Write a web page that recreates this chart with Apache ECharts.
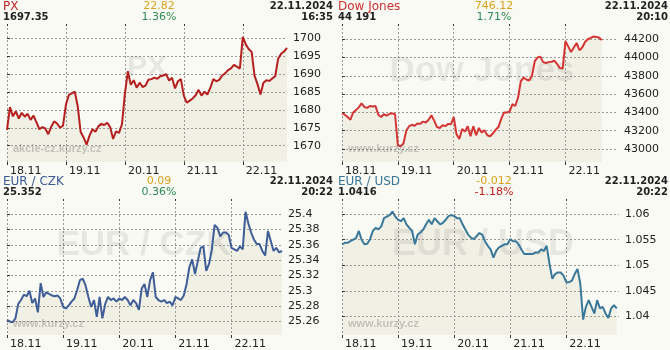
<!DOCTYPE html>
<html><head><meta charset="utf-8">
<script src="https://cdn.jsdelivr.net/npm/echarts@6/dist/echarts.min.js"></script>
<style>html,body{margin:0;padding:0;background:#fafaf5}#c{width:670px;height:350px}</style>
</head><body><div id="c"></div>
<script>
// ---- data ----
const days = ['18.11', '19.11', '20.11', '21.11', '22.11'];

const px18 = [1674.4, 1680.8, 1678.2, 1679.6, 1677.6, 1679.2, 1678.1, 1678.9, 1677.2, 1678.4, 1676.5, 1674.6, 1675.2, 1674.8, 1673.2, 1675.3, 1676.8, 1676.2, 1675.0, 1675.6];
const px19 = [1681.5, 1684.2, 1684.6, 1685.1, 1681.0, 1673.8, 1672.3, 1670.3, 1672.8, 1674.6, 1673.9, 1675.4, 1676.1, 1675.8, 1676.4, 1675.2, 1671.9, 1674.0, 1673.6, 1676.0];
const px20 = [1684.5, 1690.8, 1687.0, 1688.3, 1686.2, 1687.6, 1686.4, 1686.8, 1688.4, 1688.6, 1689.0, 1688.7, 1689.4, 1689.6, 1690.0, 1688.2, 1689.0, 1686.0, 1688.0, 1688.6];
const px21 = [1684.0, 1682.0, 1682.6, 1683.2, 1684.1, 1685.6, 1684.0, 1685.1, 1684.3, 1686.2, 1688.6, 1688.0, 1688.4, 1689.6, 1690.2, 1691.1, 1691.6, 1692.6, 1692.1, 1691.5];
const px22 = [1700.4, 1698.3, 1697.0, 1696.2, 1689.5, 1687.2, 1684.3, 1687.6, 1688.3, 1688.1, 1688.8, 1689.4, 1694.3, 1695.7, 1696.3, 1697.35];
const pxTicks = [1670, 1675, 1680, 1685, 1690, 1695, 1700];

const dj18 = [43390, 43375, 43350, 43320, 43400, 43425, 43455, 43500, 43460, 43450, 43470, 43465, 43470, 43375, 43350, 43380, 43365, 43385, 43390, 43380];
const dj19 = [43040, 43030, 43060, 43200, 43250, 43265, 43255, 43280, 43275, 43300, 43290, 43320, 43370, 43310, 43240, 43230, 43260, 43250, 43275, 43270];
const dj20 = [43350, 43160, 43110, 43220, 43190, 43250, 43140, 43250, 43150, 43230, 43180, 43205, 43150, 43140, 43170, 43210, 43240, 43330, 43400, 43400];
const dj21 = [43410, 43490, 43470, 43560, 43740, 43780, 43760, 43750, 43800, 43960, 44000, 44010, 43950, 43940, 43950, 43955, 43965, 43930, 43885, 43880];
const dj22 = [44180, 44120, 44060, 44110, 44160, 44080, 44110, 44170, 44200, 44215, 44230, 44225, 44220, 44191];
const djTicks = [43000, 43200, 43400, 43600, 43800, 44000, 44200];

const cz18 = [25.262, 25.260, 25.259, 25.264, 25.283, 25.288, 25.295, 25.293, 25.300, 25.284, 25.290, 25.272, 25.310, 25.292, 25.298, 25.296, 25.294, 25.293, 25.294, 25.290];
const cz19 = [25.279, 25.277, 25.281, 25.286, 25.290, 25.301, 25.314, 25.316, 25.307, 25.292, 25.279, 25.288, 25.266, 25.292, 25.264, 25.283, 25.292, 25.288, 25.290, 25.286];
const cz20 = [25.290, 25.288, 25.292, 25.288, 25.281, 25.288, 25.284, 25.275, 25.303, 25.309, 25.292, 25.314, 25.324, 25.292, 25.288, 25.286, 25.288, 25.284, 25.286, 25.281];
const cz21 = [25.292, 25.290, 25.288, 25.294, 25.309, 25.331, 25.341, 25.322, 25.339, 25.356, 25.358, 25.326, 25.335, 25.354, 25.386, 25.382, 25.371, 25.376, 25.376, 25.373];
const cz22 = [25.356, 25.354, 25.352, 25.358, 25.354, 25.403, 25.388, 25.376, 25.367, 25.361, 25.361, 25.352, 25.346, 25.378, 25.365, 25.352, 25.356, 25.350, 25.352];
const czTicks = [25.26, 25.28, 25.3, 25.32, 25.34, 25.36, 25.38, 25.4];

const us18 = [1.0541, 1.0544, 1.0544, 1.0547, 1.0550, 1.0553, 1.0567, 1.0550, 1.0541, 1.0542, 1.0551, 1.0567, 1.0573, 1.0570, 1.0576, 1.0592, 1.0595, 1.0598, 1.0605, 1.0595];
const us19 = [1.0589, 1.0586, 1.0592, 1.0580, 1.0573, 1.0567, 1.0541, 1.0560, 1.0564, 1.0570, 1.0580, 1.0589, 1.0580, 1.0592, 1.0586, 1.0580, 1.0583, 1.0589, 1.0596, 1.0598];
const us20 = [1.0596, 1.0592, 1.0592, 1.0580, 1.0570, 1.0560, 1.0554, 1.0551, 1.0557, 1.0563, 1.0560, 1.0547, 1.0538, 1.0531, 1.0515, 1.0528, 1.0535, 1.0538, 1.0541, 1.0541];
const us21 = [1.0551, 1.0547, 1.0547, 1.0541, 1.0531, 1.0522, 1.0522, 1.0522, 1.0522, 1.0525, 1.0525, 1.0531, 1.0528, 1.0538, 1.0503, 1.0474, 1.0483, 1.0486, 1.0486, 1.0480];
const us22 = [1.0467, 1.0467, 1.0470, 1.0483, 1.0493, 1.0464, 1.0394, 1.0419, 1.0432, 1.0419, 1.0406, 1.0432, 1.0416, 1.0419, 1.0406, 1.0397, 1.0416, 1.0422, 1.0416];
const usTicks = [1.04, 1.045, 1.05, 1.055, 1.06];

const titles = ['PX', 'Dow Jones', 'EUR / CZK', 'EUR / USD'];
const lastValues = ['1697.35', '44 191', '25.352', '1.0416'];
const changes = ['22.82', '746.12', '0.09', '-0.012'];
const percents = ['1.36%', '1.71%', '0.36%', '-1.18%'];
const dates = ['22.11.2024', '22.11.2024', '22.11.2024', '22.11.2024'];
const times = ['16:35', '20:10', '20:22', '20:22'];
const sites = ['akcie-cz.kurzy.cz', 'www.kurzy.cz', 'www.kurzy.cz', 'www.kurzy.cz'];

// ---- layout / styling ----
const FONT = '"DejaVu Sans", Verdana, sans-serif';
const WFONT = '"Liberation Sans", Arial, sans-serif';
const panels = [
  { days: [px18, px19, px20, px21, px22], ticks: pxTicks, yMin: 1665.45, yMax: 1703.99, xMax: 4.75,
    grid: { left: 7, top: 24, width: 280, height: 138 }, ox: 0, oy: 0,
    titleColor: '#b8282a', line: '#b3201f', pctColor: '#2e8b57', wm: { x: 147, y: 68, size: 30 } },
  { days: [dj18, dj19, dj20, dj21, dj22], ticks: djTicks, yMin: 42858, yMax: 44367, xMax: 4.94,
    grid: { left: 342, top: 24, width: 276, height: 138 }, ox: 335, oy: 0,
    titleColor: '#cc2f2f', line: '#d43535', pctColor: '#2e8b57', wm: { x: 482, y: 71, size: 35 } },
  { days: [cz18, cz19, cz20, cz21, cz22], ticks: czTicks, yMin: 25.2424, yMax: 25.4197, xMax: 4.9,
    grid: { left: 7, top: 199, width: 275, height: 138 }, ox: 0, oy: 175,
    titleColor: '#3b5a95', line: '#3f5d96', pctColor: '#2e8b57', wm: { x: 144, y: 245, size: 35 } },
  { days: [us18, us19, us20, us21, us22], ticks: usTicks, yMin: 1.0364, yMax: 1.06294, xMax: 4.94,
    grid: { left: 342, top: 199, width: 277, height: 138 }, ox: 335, oy: 175,
    titleColor: '#3a7698', line: '#3a7899', pctColor: '#c0201f', wm: { x: 483, y: 245, size: 36 } }
];
const PER_DAY = 20;
const GRID_COLOR = '#9a9a96';
const FILL = '#f0f0e5';

const grids = [], xAxes = [], topAxes = [], yAxes = [], series = [], graphics = [];
panels.forEach((p, k) => {
  grids.push(Object.assign({ containLabel: false }, p.grid));
  const dayIdx = days.map((d, i) => i);
  xAxes.push({
    gridIndex: k, type: 'value', min: 0, max: p.xMax, z: 2,
    axisLine: { show: false },
    axisTick: { show: true, length: 3, customValues: dayIdx, lineStyle: { color: '#333' } },
    axisLabel: { customValues: dayIdx, formatter: v => days[Math.round(v)], align: 'left', margin: 4,
      padding: [0, 0, 0, 3], color: '#222', fontSize: 11, fontFamily: FONT },
    splitLine: { show: true, lineStyle: { color: GRID_COLOR, type: [2, 2], width: 1 } }
  });
  topAxes.push({
    gridIndex: k, type: 'value', position: 'top', min: 0, max: p.xMax, z: 2,
    axisLine: { show: false }, axisLabel: { show: false }, splitLine: { show: false },
    axisTick: { show: true, inside: true, length: 2, customValues: dayIdx, lineStyle: { color: '#333' } }
  });
  yAxes.push({
    gridIndex: k, type: 'value', position: 'right', min: p.yMin, max: p.yMax, z: 2,
    axisLine: { show: false },
    axisTick: { show: true, length: 3, customValues: p.ticks, lineStyle: { color: '#333' } },
    axisLabel: { customValues: p.ticks, margin: 6, color: '#222', fontSize: 11, fontFamily: FONT,
      formatter: v => String(v) },
    splitLine: { show: true, lineStyle: { color: GRID_COLOR, type: [2, 2], width: 1 } }
  });
  const pts = [];
  p.days.forEach((arr, d) => arr.forEach((v, i) => pts.push([d + i / PER_DAY, v])));
  series.push({
    type: 'line', xAxisIndex: k, yAxisIndex: k, data: pts, showSymbol: false, z: 1,
    lineStyle: { width: 0 }, areaStyle: { color: FILL, opacity: 1, origin: 'start' }, silent: true
  });
  series.push({
    type: 'line', xAxisIndex: k, yAxisIndex: k, data: pts, showSymbol: false, z: 4,
    lineStyle: { width: 2, color: p.line }, itemStyle: { color: p.line }
  });
  const ox = p.ox, oy = p.oy;
  const t = (x, y, text, fill, font, align) => graphics.push({
    type: 'text', x: x, y: y, z: 5, silent: true,
    style: { text: text, fill: fill, font: font, textAlign: align, textVerticalAlign: 'middle', align: align, verticalAlign: 'middle' }
  });
  t(ox + 3, oy + 7, titles[k], p.titleColor, '12px ' + FONT, 'left');
  t(ox + 3, oy + 17.5, lastValues[k], '#222', 'bold 10px ' + FONT, 'left');
  t(ox + 159, oy + 6.5, changes[k], '#d9a21b', '11px ' + FONT, 'center');
  t(ox + 159, oy + 17, percents[k], p.pctColor, '11px ' + FONT, 'center');
  t(ox + 333, oy + 6.5, dates[k], '#222', 'bold 10px ' + FONT, 'right');
  t(ox + 333, oy + 17, times[k], '#222', 'bold 10px ' + FONT, 'right');
  graphics.push({ type: 'text', x: p.wm.x, y: p.wm.y, z: 3, silent: true,
    style: { text: titles[k], fill: 'rgba(0,0,0,0.075)', font: 'bold ' + p.wm.size + 'px ' + WFONT,
      textAlign: 'center', textVerticalAlign: 'middle', align: 'center', verticalAlign: 'middle' } });
  graphics.push({ type: 'text', x: ox + 13, y: oy + 149, z: 3, silent: true,
    style: { text: sites[k], fill: 'rgba(0,0,0,0.2)', font: 'bold 11px ' + WFONT,
      textAlign: 'left', textVerticalAlign: 'middle', align: 'left', verticalAlign: 'middle' } });
});

const chart = echarts.init(document.getElementById('c'), null, { renderer: 'canvas' });
chart.setOption({
  backgroundColor: '#fafaf5',
  animation: false,
  grid: grids, xAxis: xAxes.concat(topAxes), yAxis: yAxes, series: series,
  graphic: { elements: graphics }
});
</script></body></html>
